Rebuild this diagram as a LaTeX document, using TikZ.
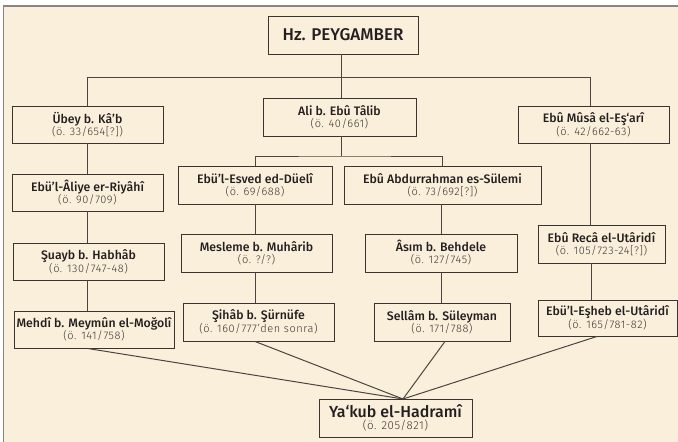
\documentclass[tikz,border=0pt]{standalone}
\usepackage{fontspec}
\setmainfont{Fira Sans}
\newfontfamily\namefont{Fira Sans Medium}
\newfontfamily\datefont{Fira Sans Light}[LetterSpace=5]
\definecolor{bgc}{HTML}{FAEFDA}
\definecolor{framec}{HTML}{8A8580}
\definecolor{boxc}{HTML}{3A3530}
\definecolor{linec}{HTML}{4A4540}
\definecolor{datec}{HTML}{3A3530}
\definecolor{namec}{HTML}{231F20}
\newcommand\nd[2]{{\namefont\fontsize{12.3}{14}\selectfont\color{namec}#1}\\{\datefont\fontsize{11}{12.5}\selectfont\color{datec}#2}}
\begin{document}
\begin{tikzpicture}[x=1pt,y=-1pt,
  box/.style={draw=boxc, line width=0.9pt, fill=bgc, inner sep=0pt, align=center},
  sz/.style 2 args={minimum width=#1pt, minimum height=#2pt},
  link/.style={draw=linec, line width=1pt}]
\useasboundingbox (0,0) rectangle (678,442);
\clip (0,0) rectangle (678,442);
\fill[white] (0,0) rectangle (678,442);
\filldraw[fill=bgc, draw=framec, line width=1.2pt] (3.5,6) rectangle (690,460);

\node[box, sz={150}{38}] (hz) at (343,35) {{\namefont\fontsize{17}{20}\selectfont\color{namec}Hz. PEYGAMBER}};
\node[box, sz={151}{37}] (ubey) at (87.5,124.5) {\nd{Übey b. Kâ’b}{(ö. 33/654[?])}};
\node[box, sz={153}{38}] (ali) at (339.5,117) {\nd{Ali b. Ebû Tâlib}{(ö. 40/661)}};
\node[box, sz={151}{37}] (musa) at (593.5,124.5) {\nd{Ebû Mûsâ el-Eş‘arî}{(ö. 42/662-63)}};
\node[box, sz={151}{37}] (aliye) at (87.5,192.5) {\nd{Ebü’l-Âliye er-Riyâhî}{(ö. 90/709)}};
\node[box, sz={151}{37}] (suayb) at (88.5,261.5) {\nd{Şuayb b. Habhâb}{(ö. 130/747-48)}};
\node[box, sz={160}{37}] (mehdi) at (94,329.5) {\nd{Mehdî b. Meymûn el-Moğolî}{(ö. 141/758)}};
\node[box, sz={154}{38}] (esved) at (255,185) {\nd{Ebü’l-Esved ed-Düelî}{(ö. 69/688)}};
\node[box, sz={197}{38}] (abdur) at (442.5,185) {\nd{Ebû Abdurrahman es-Sülemi}{(ö. 73/692[?])}};
\node[box, sz={151}{38}] (mesleme) at (256.5,253) {\nd{Mesleme b. Muhârib}{(ö. ?/?)}};
\node[box, sz={152}{38}] (asim) at (441,253) {\nd{Âsım b. Behdele}{(ö. 127/745)}};
\node[box, sz={151}{38}] (sihab) at (258.5,322) {\nd{Şihâb b. Şürnüfe}{(ö. 160/777’den sonra)}};
\node[box, sz={136}{38}] (sellam) at (442,322) {\nd{Sellâm b. Süleyman}{(ö. 171/788)}};
\node[box, sz={127}{38}] (reca) at (601.5,244) {\nd{Ebû Recâ el-Utâridî}{(ö. 105/723-24[?])}};
\node[box, sz={139}{36}] (esheb) at (607.5,318) {\nd{Ebü’l-Eşheb el-Utâridî}{(ö. 165/781-82)}};
\node[box, sz={153}{38}] (yakub) at (395.5,418) {{\namefont\fontsize{16}{18}\selectfont\color{namec}Ya‘kub el-Hadramî}\\{\datefont\fontsize{11.5}{13.5}\selectfont\color{datec}(ö. 205/821)}};

\coordinate (top) at (341,77);
\coordinate (mr) at (590,77);
\coordinate (asub) at (341,156);
\coordinate (cv) at (403,399);

\draw[link] (hz.south -| top) -- (ali.north -| top);
\draw[link] (ubey.north) |- (mr) -- (mr |- musa.north);
\draw[link] (ali.south -| asub) -- (asub);
\draw[link] (esved.north) |- (asub) -| (abdur.north);
\draw[link] (ubey.south) -- (aliye.north);
\draw[link] (aliye.south) -- (aliye.south |- suayb.north);
\draw[link] (aliye.south |- suayb.south) -- (aliye.south |- mehdi.north);
\draw[link] (esved.south) -- (esved.south |- mesleme.north);
\draw[link] (esved.south |- mesleme.south) -- (esved.south |- sihab.north);
\draw[link] (asim.north |- abdur.south) -- (asim.north);
\draw[link] (asim.south) -- (asim.south |- sellam.north);
\draw[link] (mr |- musa.south) -- (mr |- reca.north);
\draw[link] ([xshift=1pt]mr |- reca.south) -- ([xshift=1pt]mr |- esheb.north);
\draw[link] (aliye.south |- mehdi.south) -- (cv);
\draw[link] (esved.south |- sihab.south) -- (cv);
\draw[link] ([xshift=3pt]sellam.south) -- (cv);
\draw[link] ([xshift=-10.5pt]esheb.south) -- (cv);
\end{tikzpicture}
\end{document}
